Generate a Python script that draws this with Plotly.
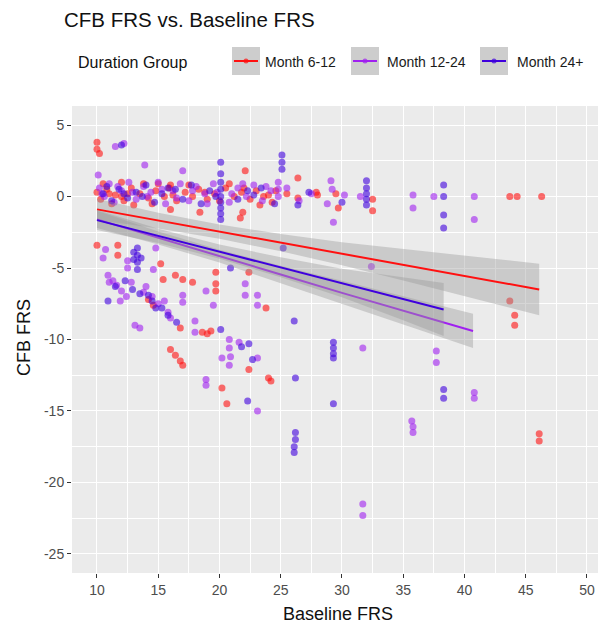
import plotly.graph_objects as go

# ---------------- data ----------------
groups = ["Month 6-12", "Month 12-24", "Month 24+"]
colors = ["#FF1010", "#A020F0", "#3F00DD"]

red_x = [10.0, 10.0, 10.2,
         10.0, 10.3, 10.8, 11.5, 12.2, 12.8, 13.5, 14.2, 14.8, 15.5, 15.9, 16.5, 17.2, 17.8, 18.3, 19.0,
         19.6, 20.5, 21.2, 21.8, 22.5, 23.0, 23.6, 24.3, 25.5, 28.0, 29.5,
         10.5, 11.2, 12.5, 13.8, 14.5, 16.2, 17.5, 18.8, 20.0, 20.8, 22.0, 23.3, 24.6, 12.0, 11.0,
         16.0, 16.0, 18.4, 21.9, 21.7, 22.1, 26.4, 24.0, 27.9, 29.7, 26.4, 32.5, 32.5, 43.7, 44.3, 46.3,
         13.0, 15.0, 12.0,
         10.0, 11.7, 11.7, 15.2, 15.4, 16.4, 17.0, 17.8, 19.7, 19.7, 19.7, 22.4, 23.8, 18.6, 19.0, 19.3,
         16.8, 16.0, 16.4, 16.8, 17.0, 20.2, 20.6, 22.4, 24.0, 24.2, 43.7, 44.1, 44.1, 46.1, 46.1,
         14.2, 14.6]
red_y = [3.8, 3.3, 3.0,
         0.3, -0.2, 0.5, 0.1, -0.3, 0.6, 0.2, -0.1, 0.4, 0.0, 0.6, -0.3, 0.3, 0.0, 0.5, -0.2,
         0.2, 0.6, 0.0, 0.3, -0.2, 0.4, 0.0, -0.4, 0.2, 0.1, 0.2,
         0.9, -0.5, 0.2, 0.9, -0.5, 0.1, 0.8, 0.3, -0.3, 0.9, 0.6, -0.6, 0.4, 0.0, 0.2,
         0.8, -0.9, -1.1, -1.1, -1.5, 1.8, 1.3, 0.1, 0.3, -0.8, -0.1, -0.2, -1.0, 0.0, 0.0, 0.0,
         -0.6, 0.9, 1.0,
         -3.4, -3.4, -4.1, -4.7, -5.8, -5.5, -5.8, -6.0, -5.3, -6.1, -6.6, -5.3, -7.8, -9.5, -9.6, -9.4,
         -9.2, -10.7, -11.1, -11.5, -11.8, -13.4, -14.5, -12.1, -12.7, -12.9, -7.3, -8.3, -9.0, -16.6, -17.1,
         -7.2, -7.6]

purple_x = [11.5, 12.2,
            10.1, 13.9, 17.0, 24.8, 29.1, 29.3, 35.8, 35.8, 37.5, 40.8, 40.8, 32.4,
            10.2, 10.6, 11.0, 11.4, 12.0, 12.6, 13.2, 13.8, 14.4, 15.0, 15.6, 16.2, 16.8, 17.5, 18.1, 18.8,
            19.5, 20.8, 21.5, 22.2, 22.8, 23.5, 24.2, 24.8, 24.8, 26.5, 27.5, 28.8, 29.2, 30.2, 31.5,
            10.4, 11.7, 12.9, 14.1, 15.3, 16.5, 17.8, 19.0, 19.8, 21.0, 21.9, 23.8, 25.5,
            11.0, 12.4, 14.0, 15.5, 16.0, 12.8,
            10.7, 14.8, 14.6, 10.9, 11.3, 11.6, 12.0, 11.9, 13.8, 14.5, 15.0, 15.8, 13.1, 13.5, 17.0, 17.0,
            18.0, 18.0, 18.9, 19.5, 22.1, 22.1, 23.1, 23.1, 20.8, 20.8, 20.9, 20.8, 20.2, 21.6, 18.9, 18.9,
            23.1, 23.1, 31.7, 35.7, 35.8, 35.8, 37.7, 37.7, 40.8, 40.8, 31.7, 31.7, 12.5, 12.5, 10.5]
purple_y = [3.5, 3.7,
            1.5, 2.2, 1.8, 1.0, 1.1, -1.8, 0.1, -0.8, 0.0, 0.0, -1.6, -4.9,
            0.6, 0.0, 0.9, -0.4, 0.4, 1.0, -0.2, 0.7, 0.3, 1.0, -0.5, 0.4, 0.9, -0.3, 0.7, 0.2,
            0.9, -0.4, 0.6, 0.0, 0.8, -0.3, 0.4, 0.0, 0.5, -0.3, 0.2, -0.5, 0.5, 0.1, 0.0,
            0.2, 0.7, 0.3, 0.0, 0.5, -0.1, 0.4, -0.5, 0.3, 0.2, 0.9, 0.7, 0.6,
            -6.0, -7.0, -6.3, -7.3, -8.5, -6.0,
            -3.7, -3.6, -5.1, -5.5, -5.9, -6.2, -6.6, -7.3, -6.7, -7.0, -7.5, -8.1, -9.0, -9.2, -6.9, -7.4,
            -8.7, -9.5, -6.6, -7.6, -6.1, -6.9, -7.6, -6.9, -10.0, -10.6, -11.2, -11.8, -11.3, -10.2, -12.8, -13.2,
            -11.3, -15.0, -10.6, -15.7, -16.1, -16.5, -10.8, -11.6, -13.7, -14.1, -21.5, -22.3, -4.5, -5.0, -4.3]

blue_x = [12.0,
          20.1, 20.1, 20.1, 20.1, 20.1, 20.1, 20.1, 20.1, 20.1,
          25.1, 25.1, 25.1,
          25.2, 32.0, 32.0, 32.0, 32.0, 32.0, 26.4, 38.3, 38.3, 38.3, 38.3,
          10.5, 11.2, 11.8, 12.5, 13.2, 14.0, 14.7, 15.3, 16.4, 17.7, 18.5, 19.2, 21.5, 22.8, 23.4, 24.5,
          27.3, 30.0,
          10.8, 12.2, 13.7, 15.8, 17.0, 19.7, 22.3,
          13.5, 14.2, 14.8, 11.5, 12.3, 13.0, 16.5,
          13.3, 13.3, 13.3, 13.3, 13.0, 13.6, 10.9, 12.9, 14.5, 15.3, 15.8, 20.9, 20.1, 22.4, 22.7, 22.3,
          26.1, 29.3, 29.3, 29.3, 29.3, 26.2, 29.3, 26.2, 26.2, 26.1, 26.1, 38.3, 38.3, 21.8]
blue_y = [3.6,
          2.4, 1.6, 1.0, 0.5, 0.0, -0.4, -0.8, -1.2, -1.6,
          2.9, 2.4, 1.9,
          -3.6, 1.1, 0.6, 0.2, -0.2, -0.6, -0.6, 0.8, 0.0, -1.3, -2.2,
          0.2, -0.3, 0.5, -0.1, 0.3, 0.8, -0.4, 0.2, 0.5, 0.8, -0.5, 0.4, -0.2, 0.1, 0.6, -0.5,
          0.3, -0.4,
          0.7, 0.2, 0.0, 0.6, -0.2, 0.0, 0.4,
          -6.8, -6.9, -7.8, -6.3, -5.9, -4.4, -8.8,
          -3.6, -4.1, -4.6, -5.1, -3.9, -4.3, -7.3, -6.5, -7.3, -7.8, -8.3, -5.0, -9.3, -10.3, -11.4, -14.3,
          -8.7, -10.2, -10.6, -11.0, -11.3, -12.7, -14.5, -16.5, -17.0, -17.5, -17.9, -13.5, -14.1, -10.5]

# linear-fit lines and confidence bands
red_fit_x = [10, 15, 20, 25, 30, 35, 40, 46.1]
red_fit_y = [-0.9, -1.68, -2.45, -3.23, -4.0, -4.78, -5.55, -6.5]
red_fit_lo = [-1.65, -2.23, -2.95, -3.83, -4.8, -5.88, -6.95, -8.3]
red_fit_hi = [-0.15, -1.13, -1.95, -2.63, -3.2, -3.68, -4.15, -4.7]

purple_fit_x = [10, 15, 20, 25, 30, 35, 40.7]
purple_fit_y = [-1.6, -2.9, -4.17, -5.45, -6.74, -8.0, -9.4]
purple_fit_lo = [-2.2, -3.35, -4.62, -6.05, -7.55, -8.95, -10.6]
purple_fit_hi = [-1.0, -2.45, -3.72, -4.85, -5.9, -6.95, -8.2]

blue_fit_x = [10, 15, 20, 25, 30, 35, 38.3]
blue_fit_y = [-1.65, -2.75, -3.85, -4.95, -6.05, -7.15, -7.9]
blue_fit_lo = [-2.35, -3.25, -4.35, -5.65, -7.05, -8.65, -9.75]
blue_fit_hi = [-0.95, -2.25, -3.35, -4.25, -5.05, -5.65, -6.05]

x_ticks = [10, 15, 20, 25, 30, 35, 40, 45, 50]
x_tick_labels = ["10", "15", "20", "25", "30", "35", "40", "45", "50"]
y_ticks = [5, 0, -5, -10, -15, -20, -25]
y_tick_labels = ["5", "0", "-5", "-10", "-15", "-20", "-25"]

# ---------------- figure ----------------
W, H = 598, 629
PL, PT, PR, PB = 72, 106, 598, 573
PW, PH = PR - PL, PB - PT


def fx(px):
    return (px - PL) / PW


def fy(py):
    return (PB - py) / PH


FONT = "Liberation Sans, Arial, sans-serif"
fig = go.Figure()

pts = [(red_x, red_y), (purple_x, purple_y), (blue_x, blue_y)]
for (xs, ys), name, c in zip(pts, groups, colors):
    fig.add_trace(go.Scatter(x=xs, y=ys, mode="markers", name=name, showlegend=False,
                             marker=dict(color=c, size=7, opacity=0.6, line=dict(width=0))))

fits = [(red_fit_x, red_fit_y, red_fit_lo, red_fit_hi),
        (purple_fit_x, purple_fit_y, purple_fit_lo, purple_fit_hi),
        (blue_fit_x, blue_fit_y, blue_fit_lo, blue_fit_hi)]
for (fxs, fys, lo, hi), name, c in zip(fits, groups, colors):
    fig.add_trace(go.Scatter(x=fxs + fxs[::-1], y=hi + lo[::-1], fill="toself",
                             fillcolor="rgba(153,153,153,0.4)", line=dict(width=0),
                             mode="lines", showlegend=False, hoverinfo="skip"))
    fig.add_trace(go.Scatter(x=fxs, y=fys, mode="lines", showlegend=False,
                             line=dict(color=c, width=2)))

shapes = []
annotations = []

# title
annotations.append(dict(text="CFB FRS vs. Baseline FRS", xref="paper", yref="paper",
                        x=fx(62), y=fy(20), xanchor="left", yanchor="middle", showarrow=False,
                        font=dict(family=FONT, size=20.5, color="#111111")))
# legend (manual)
annotations.append(dict(text="Duration Group", xref="paper", yref="paper",
                        x=fx(76), y=fy(63), xanchor="left", yanchor="middle", showarrow=False,
                        font=dict(family=FONT, size=16, color="#111111")))
key_left = [232, 351, 480]
label_left = [263, 385, 515]
for kx, lx, name, c in zip(key_left, label_left, groups, colors):
    shapes.append(dict(type="rect", xref="paper", yref="paper", x0=fx(kx), x1=fx(kx + 28),
                       y0=fy(47), y1=fy(75), fillcolor="#CDCDCD", line=dict(width=0), layer="above"))
    shapes.append(dict(type="line", xref="paper", yref="paper", x0=fx(kx + 2), x1=fx(kx + 26),
                       y0=fy(61), y1=fy(61), line=dict(color=c, width=2), layer="above"))
    shapes.append(dict(type="circle", xref="paper", yref="paper", x0=fx(kx + 11.5), x1=fx(kx + 16.5),
                       y0=fy(58.5), y1=fy(63.5), fillcolor=c, opacity=0.7, line=dict(width=0), layer="above"))
    annotations.append(dict(text=name, xref="paper", yref="paper", x=fx(lx), y=fy(62),
                            xanchor="left", yanchor="middle", showarrow=False,
                            font=dict(family=FONT, size=14, color="#1A1A1A")))

# axis titles
annotations.append(dict(text="Baseline FRS", xref="paper", yref="paper", x=fx(338), y=fy(614),
                        xanchor="center", yanchor="middle", showarrow=False,
                        font=dict(family=FONT, size=18, color="#111111")))
annotations.append(dict(text="CFB FRS", xref="paper", yref="paper", x=fx(24), y=fy(338),
                        xanchor="center", yanchor="middle", showarrow=False, textangle=-90,
                        font=dict(family=FONT, size=18, color="#111111")))

fig.update_layout(
    width=W, height=H,
    margin=dict(l=PL, r=W - PR, t=PT, b=H - PB, autoexpand=False),
    paper_bgcolor="white", plot_bgcolor="#EBEBEB",
    showlegend=False,
    shapes=shapes, annotations=annotations,
    font=dict(family=FONT),
)
fig.update_xaxes(range=[7.96, 50.9], tickmode="array", tickvals=x_ticks, ticktext=x_tick_labels,
                 automargin=False,
                 showgrid=True, gridcolor="white", gridwidth=1.4, zeroline=False,
                 ticks="outside", ticklen=4, tickcolor="#333333", tickwidth=1,
                 tickfont=dict(family=FONT, size=14, color="#4D4D4D"),
                 minor=dict(tickmode="array", tickvals=[7.5 + 5 * i for i in range(10)],
                            showgrid=True, gridcolor="white", gridwidth=0.6, ticks=""),
                 showline=False)
fig.update_yaxes(range=[-26.33, 6.33], tickmode="array", tickvals=y_ticks, ticktext=y_tick_labels,
                 automargin=False,
                 showgrid=True, gridcolor="white", gridwidth=1.4, zeroline=False,
                 ticks="outside", ticklen=4, tickcolor="#333333", tickwidth=1,
                 tickfont=dict(family=FONT, size=14, color="#4D4D4D"),
                 minor=dict(tickmode="array", tickvals=[2.5 - 5 * i for i in range(7)],
                            showgrid=True, gridcolor="white", gridwidth=0.6, ticks=""),
                 showline=False)

fig.write_html("out.html", config={"displayModeBar": False},
               post_script="document.body.style.margin='0px';document.body.style.overflow='hidden';")
